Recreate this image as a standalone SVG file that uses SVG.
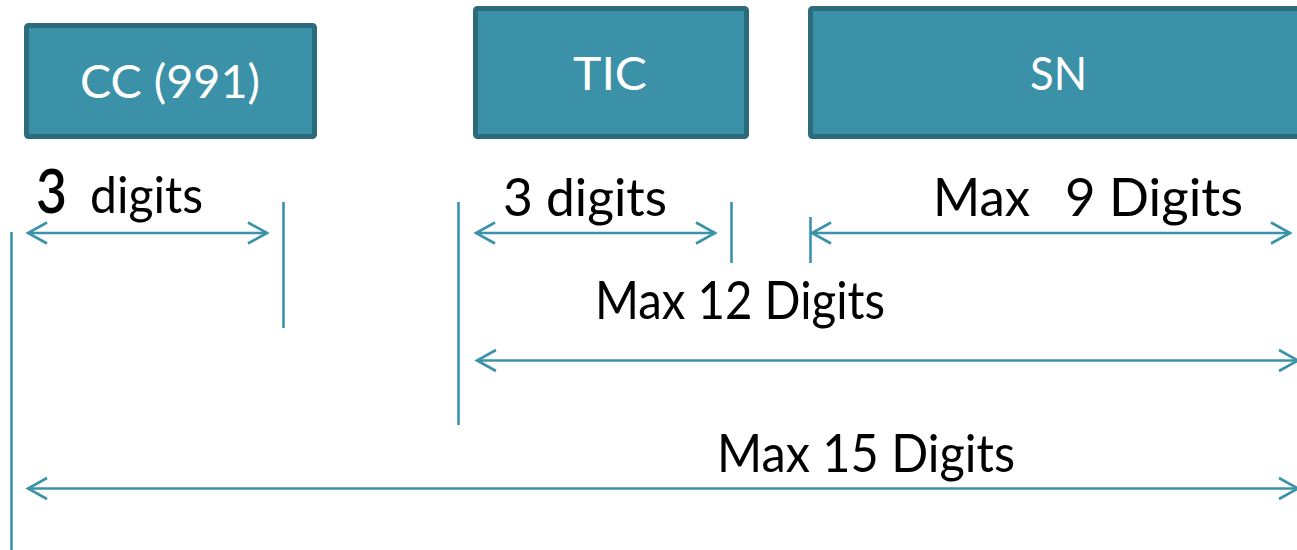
<svg xmlns="http://www.w3.org/2000/svg" width="1297" height="550" viewBox="0 0 1297 550">
<style>
.box{fill:#3b91a7;stroke:#2b6b7b;stroke-width:5}
.bt{fill:#ffffff;font-family:Lato,"Liberation Sans",sans-serif;font-size:46px;text-anchor:start}
.lb{fill:#000000;font-family:Lato,"Liberation Sans",sans-serif;font-size:52px}
.dim{stroke:#3b93a9;stroke-width:2.6;fill:none}
.arr{stroke:#3b93a9;stroke-width:2.6;fill:none;marker-start:url(#chev);marker-end:url(#chev)}
</style>
<defs>
<marker id="chev" markerUnits="userSpaceOnUse" viewBox="-22 -13 25 26" refX="0" refY="0" markerWidth="25" markerHeight="26" orient="auto-start-reverse" overflow="visible">
<path d="M-19,-10.5 L0,0 L-19,10.5" fill="none" stroke="#3b93a9" stroke-width="2.6"/>
</marker>
</defs>
<rect width="1297" height="550" fill="#ffffff"/>
<g id="node-cc">
<rect class="box" x="26.5" y="25.5" width="288" height="111" rx="2"/>
<text class="bt" x="80" y="98" textLength="180" lengthAdjust="spacingAndGlyphs">CC (991)</text>
</g>
<g id="node-tic">
<rect class="box" x="475.5" y="8.5" width="271" height="128" rx="2"/>
<text class="bt" x="573" y="90" textLength="74" lengthAdjust="spacingAndGlyphs">TIC</text>
</g>
<g id="node-sn">
<rect class="box" x="810.5" y="8.5" width="510" height="128" rx="2"/>
<text class="bt" x="1030" y="90" textLength="57" lengthAdjust="spacingAndGlyphs">SN</text>
</g>
<g id="labels">
<text class="lb" y="213"><tspan x="36" font-size="61" font-weight="600" textLength="31" lengthAdjust="spacingAndGlyphs">3</tspan><tspan x="90" font-size="50" textLength="113" lengthAdjust="spacingAndGlyphs">digits</tspan></text>
<text class="lb" x="503" y="216" textLength="164" lengthAdjust="spacingAndGlyphs">3 digits</text>
<text class="lb" y="216"><tspan x="933" textLength="97" lengthAdjust="spacingAndGlyphs">Max</tspan><tspan x="1065" textLength="178" lengthAdjust="spacingAndGlyphs">9 Digits</tspan></text>
<text class="lb" x="595" y="319" textLength="290" lengthAdjust="spacingAndGlyphs">Max 12 Digits</text>
<text class="lb" x="717" y="472" textLength="298" lengthAdjust="spacingAndGlyphs">Max 15 Digits</text>
</g>
<g id="connectors">
<line class="dim" x1="11.5" y1="232" x2="11.5" y2="550"/>
<line class="dim" x1="283.5" y1="202" x2="283.5" y2="328"/>
<line class="dim" x1="458.5" y1="202" x2="458.5" y2="425"/>
<line class="dim" x1="731.5" y1="202" x2="731.5" y2="263"/>
<line class="dim" x1="810.5" y1="217" x2="810.5" y2="263"/>
<line class="arr" x1="28" y1="233" x2="267" y2="233"/>
<line class="arr" x1="476" y1="233" x2="715" y2="233"/>
<line class="arr" x1="812" y1="233" x2="1290" y2="233"/>
<line class="arr" x1="477" y1="360.5" x2="1298" y2="360.5"/>
<line class="arr" x1="28" y1="488.5" x2="1298" y2="488.5"/>
</g>
</svg>
